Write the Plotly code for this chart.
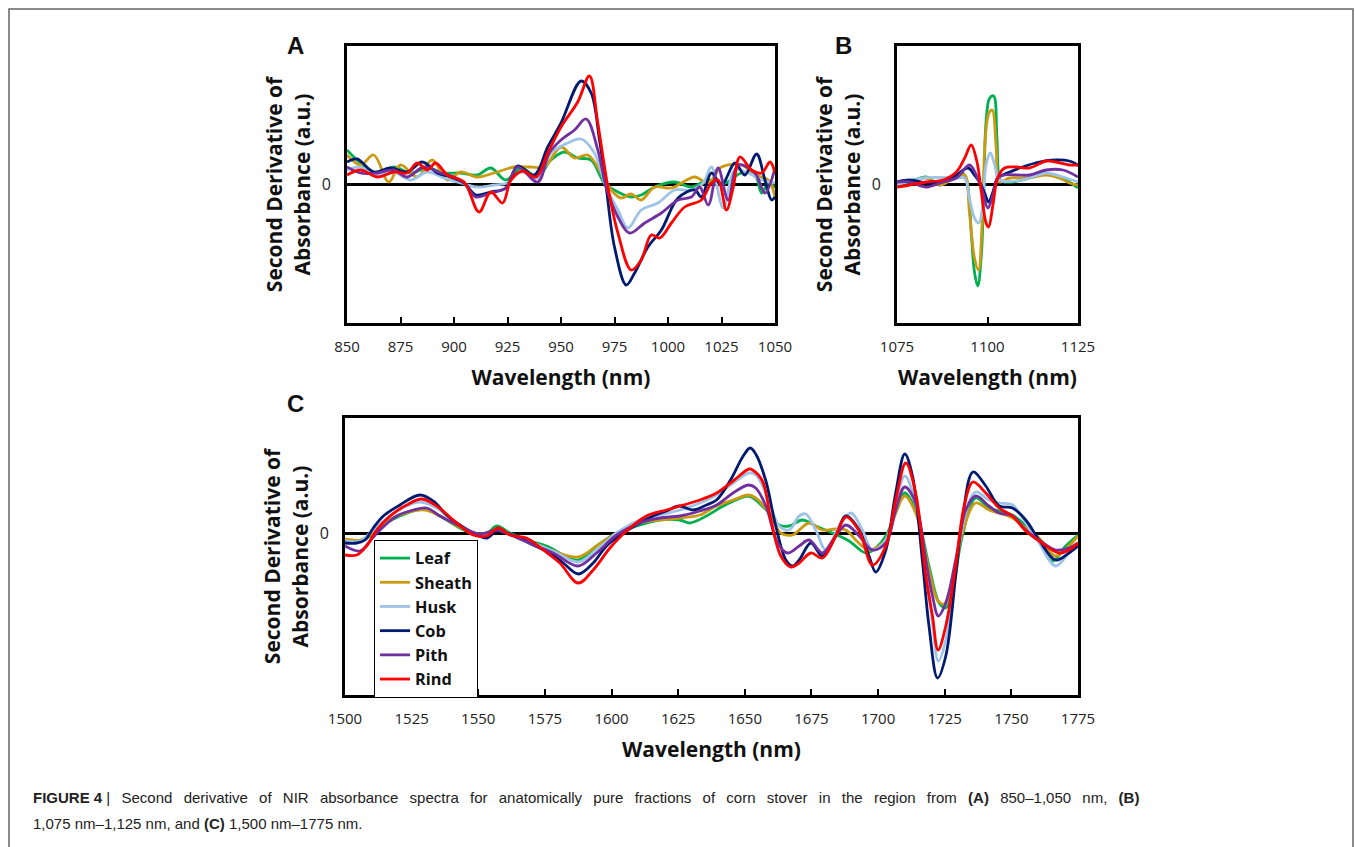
import plotly.graph_objects as go

# ---------------- data ----------------
series_names = ["Leaf", "Sheath", "Husk", "Cob", "Pith", "Rind"]
series_colors = ["#00B050", "#C99A12", "#9DC3E6", "#001A70", "#7030A0", "#FF0000"]

# Panel A (850-1050 nm)
a_leaf_wl = [850, 856.3, 864.1, 871.9, 879.7, 887.5, 895.3, 903.1, 910.9, 917.2, 924.2, 931.3, 939.1, 945.3, 951.6, 957.8, 964.1, 970.3, 976.6, 982.8, 987.5, 993.8, 1003.1, 1010.9, 1018.8, 1026.6, 1034.4, 1040.6, 1043.8, 1046.9, 1050]
a_leaf = [3.4, 2.1, 1.1, 1.7, 1.1, 1.6, 1.1, 1.1, 0.9, 1.6, 0.4, 1.6, 0.7, 2.4, 3.2, 2.6, 2.4, 0.1, -0.8, -1.3, -1.1, -0.3, 0.2, -0.3, 0.4, 0.1, 1.1, 0.9, -0.9, 0.1, -0.4]

a_sheath_wl = [850, 856.3, 862.5, 869.5, 875.0, 882.8, 889.8, 896.9, 903.1, 910.9, 918.8, 928.1, 935.9, 942.2, 950.0, 956.3, 962.5, 968.8, 973.4, 978.1, 982.8, 987.5, 993.8, 1001.6, 1012.5, 1018.8, 1025.0, 1034.4, 1040.6, 1046.9, 1050]
a_sheath = [2.9, 1.9, 2.9, 0.2, 1.9, 0.7, 2.4, 0.4, 1.2, 0.7, 1.1, 1.7, 1.7, 1.7, 3.7, 2.6, 2.9, 1.1, -0.6, -1.4, -1.0, -1.6, -0.3, -0.4, 0.7, 0.1, 1.7, 1.9, 0.9, 0.4, -1.3]

a_husk_wl = [850, 856.3, 862.5, 871.9, 879.7, 887.5, 895.3, 903.1, 910.9, 918.8, 925.0, 931.3, 939.1, 945.3, 953.1, 959.4, 965.6, 971.1, 976.6, 981.3, 987.5, 995.3, 1003.1, 1010.9, 1016.4, 1020.3, 1025.8, 1031.3, 1037.5, 1043.8, 1050]
a_husk = [1.4, 1.7, 0.9, 1.2, 0.4, 1.2, 0.6, 0.1, -0.3, -0.1, 0.1, 1.2, 0.6, 3.1, 4.1, 4.5, 3.1, -0.3, -2.6, -4.4, -2.6, -1.9, -0.6, -0.6, 0.1, 1.7, -2.4, 1.4, 1.1, 0.4, 0.1]

a_cob_wl = [850, 854.7, 862.5, 870.3, 878.1, 885.2, 892.2, 898.4, 904.7, 910.2, 917.2, 924.2, 929.7, 937.5, 943.8, 950.0, 959.4, 964.1, 968.0, 971.1, 975.0, 980.5, 984.4, 990.6, 996.9, 1004.7, 1012.5, 1015.6, 1020.3, 1025.0, 1031.3, 1035.9, 1041.4, 1045.3, 1048.4, 1050]
a_cob = [2.2, 2.5, 1.2, 1.6, 1.2, 2.2, 1.1, 0.7, 0.1, -1.1, -0.8, -0.4, 1.8, 0.9, 3.7, 6.1, 10.3, 9.1, 4.4, -0.3, -6.3, -10.1, -8.9, -6.3, -4.6, -1.4, -0.6, -1.3, 1.1, -0.1, 2.1, 0.9, 3.0, 0.4, -1.6, -1.3]

a_pith_wl = [850, 856.3, 864.1, 871.9, 878.1, 885.9, 893.8, 900.0, 904.7, 910.2, 917.2, 924.2, 929.7, 939.1, 944.5, 950.0, 956.3, 961.7, 967.2, 971.1, 976.6, 982.0, 989.1, 996.9, 1004.7, 1010.9, 1014.8, 1018.8, 1023.4, 1028.1, 1032.8, 1040.6, 1045.3, 1050]
a_pith = [1.7, 1.1, 1.1, 1.4, 0.7, 1.7, 1.1, 0.7, 0.1, -1.3, -0.9, -0.4, 1.7, 0.2, 3.1, 4.4, 5.4, 6.5, 3.4, -0.3, -3.3, -4.9, -3.9, -2.9, -1.6, -1.3, -0.3, -2.1, 1.6, -1.6, 1.9, 1.1, -0.9, 1.6]

a_rind_wl = [850, 856.3, 864.1, 871.9, 878.1, 882.8, 887.5, 891.4, 896.9, 904.7, 911.7, 917.2, 922.7, 926.6, 932.0, 938.3, 943.8, 950.0, 957.8, 963.3, 967.2, 971.9, 976.6, 982.8, 987.5, 992.2, 996.1, 1001.6, 1007.8, 1015.6, 1020.3, 1023.4, 1027.3, 1030.5, 1033.6, 1039.1, 1043.8, 1047.7, 1050]
a_rind = [0.9, 1.4, 0.7, 1.2, 1.1, 2.1, 1.4, 2.1, 0.9, 0.2, -2.8, -0.8, -1.9, 0.4, 1.3, 0.7, 3.1, 5.7, 8.2, 10.8, 6.1, -0.3, -4.9, -8.6, -7.6, -5.1, -5.4, -3.9, -2.3, -1.6, 0.1, 0.4, -2.6, -0.3, 2.7, 1.4, 1.1, 2.2, 1.1]

# Panel B (1075-1125 nm)
b_leaf_wl = [1075, 1078.5, 1083.1, 1086.8, 1091.4, 1093.2, 1094.6, 1095.5, 1096.4, 1097.3, 1098.3, 1099.0, 1099.6, 1100.6, 1101.7, 1102.6, 1103.5, 1104.7, 1109.7, 1115.3, 1119.9, 1122.6, 1125]
b_leaf = [-0.1, 0.2, 0.7, -0.1, 0.9, 1.1, -0.4, -4.8, -8.8, -10.2, -7.1, -0.4, 6.2, 8.6, 8.8, 4.6, 0.4, 0.2, 0.4, 1.1, 0.6, 0.2, -0.4]

b_sheath_wl = [1075, 1078.5, 1083.1, 1086.8, 1091.4, 1093.7, 1095.0, 1096.4, 1097.5, 1098.5, 1099.4, 1100.4, 1101.3, 1102.4, 1103.3, 1106.1, 1111.6, 1116.2, 1119.9, 1122.6, 1125]
b_sheath = [0.1, 0.3, 0.6, -0.1, 0.7, 0.9, -2.8, -7.4, -8.6, -4.1, 4.6, 7.1, 7.4, 3.6, 0.2, 0.6, 0.6, 0.9, 0.6, 0.1, -0.1]

b_husk_wl = [1075, 1082.2, 1091.4, 1093.7, 1095.0, 1096.4, 1097.6, 1098.7, 1099.6, 1100.8, 1102.0, 1103.3, 1109.7, 1116.2, 1120.8, 1125]
b_husk = [-0.1, 0.6, 0.6, 0.6, -1.4, -3.4, -3.9, -2.1, 1.9, 3.1, 1.9, 0.4, 0.4, 1.1, 0.7, 0.2]

b_cob_wl = [1075, 1078.5, 1083.1, 1087.7, 1091.4, 1094.6, 1096.4, 1097.8, 1099.2, 1100.3, 1101.5, 1102.8, 1104.2, 1109.7, 1114.3, 1118.9, 1122.6, 1125]
b_cob = [0.2, 0.4, 0.1, 0.2, 0.9, 1.6, 0.9, 0.2, -0.9, -1.8, -0.8, 0.6, 0.9, 1.7, 2.2, 2.4, 2.3, 1.9]

b_pith_wl = [1075, 1078.5, 1083.1, 1087.7, 1091.4, 1095.0, 1096.9, 1098.7, 1100.1, 1101.5, 1102.8, 1104.7, 1111.6, 1116.2, 1120.8, 1125]
b_pith = [0.2, 0.2, -0.3, 0.2, 0.6, 1.9, 0.9, -0.8, -2.4, -1.1, 0.6, 0.9, 0.9, 1.4, 1.4, 0.7]

b_rind_wl = [1075, 1078.5, 1083.1, 1087.7, 1091.4, 1093.7, 1095.5, 1097.1, 1098.3, 1099.6, 1100.3, 1101.5, 1102.8, 1104.7, 1107.9, 1111.6, 1116.2, 1118.9, 1122.6, 1125]
b_rind = [-0.3, -0.1, 0.2, 0.4, 1.2, 2.6, 3.9, 2.2, -0.8, -3.9, -4.3, -2.1, 0.6, 1.6, 1.7, 1.6, 2.3, 2.2, 1.9, 1.9]

# Panel C (1500-1775 nm)
c_leaf_wl = [1500, 1505.6, 1509.4, 1514.4, 1520.6, 1530.0, 1535.6, 1543.1, 1549.4, 1553.1, 1556.9, 1561.9, 1569.4, 1575.6, 1587.5, 1594.4, 1601.9, 1610.6, 1618.1, 1625.6, 1629.4, 1635.6, 1641.9, 1651.3,
             1654.1, 1659.1, 1662.9, 1666.6, 1671.6, 1676.6, 1682.9, 1689.1, 1695.4, 1699.1, 1702.9, 1706.6, 1710.0, 1714.1, 1719.1, 1722.9, 1725.4, 1727.9, 1731.6, 1736.6, 1741.6, 1745.4, 1750.4, 1755.4, 1760.4, 1765.4, 1770.4, 1775]
c_leaf = [-0.7, -0.8, -0.3, 0.8, 1.7, 2.4, 1.7, 0.5, -0.2, -0.1, 0.7, 0.0, -0.8, -1.3, -2.7, -1.3, 0.0, 0.8, 1.3, 1.3, 1.0, 1.7, 2.7, 3.7,
          3.3, 2.0, 0.8, 0.7, 1.3, 0.7, 0.0, -0.8, -2.0, -1.5, -0.3, 2.0, 4.0, 2.3, -3.3, -7.0, -7.5, -5.7, -0.3, 3.5, 2.5, 2.2, 1.8, 0.7, -0.7, -2.8, -1.3, -0.2]

c_sheath_wl = [1500, 1505.6, 1509.4, 1513.1, 1519.4, 1530.0, 1535.6, 1543.1, 1550.6, 1556.9, 1563.1, 1570.6, 1578.1, 1587.5, 1594.4, 1601.9, 1610.6, 1618.1, 1625.6, 1633.1, 1639.4, 1645.6, 1651.3,
               1654.1, 1659.1, 1663.5, 1667.9, 1674.1, 1679.1, 1684.1, 1687.9, 1691.6, 1696.6, 1702.9, 1706.6, 1710.0, 1714.1, 1719.1, 1722.3, 1724.8, 1727.9, 1731.6, 1736.6, 1741.6, 1745.4, 1750.4, 1755.4, 1760.4, 1766.6, 1771.6, 1775]
c_sheath = [-0.6, -0.7, -0.2, 0.7, 1.7, 2.3, 1.7, 0.6, -0.1, 0.3, -0.3, -1.0, -1.8, -2.4, -1.3, 0.0, 1.0, 1.3, 1.5, 1.8, 2.7, 3.3, 3.8,
            3.5, 2.0, 0.0, -0.2, 1.0, 0.3, 0.4, 0.3, -0.7, -1.7, -0.7, 2.0, 3.7, 2.0, -3.7, -6.7, -7.1, -5.0, 0.0, 3.0, 2.3, 2.0, 1.5, 0.5, -0.5, -2.3, -1.3, -0.3]

c_husk_wl = [1500, 1505.6, 1510.6, 1516.9, 1523.1, 1528.1, 1534.4, 1540.6, 1548.1, 1553.1, 1557.5, 1563.1, 1570.6, 1578.1, 1587.5, 1594.4, 1601.9, 1610.6, 1618.1, 1625.6, 1633.1, 1639.4, 1645.6, 1651.6,
             1654.1, 1657.9, 1662.9, 1666.6, 1670.4, 1672.9, 1676.6, 1680.4, 1685.4, 1689.8, 1694.1, 1697.9, 1702.9, 1706.6, 1710.0, 1714.1, 1717.9, 1720.4, 1722.6, 1725.4, 1729.1, 1732.9, 1736.6, 1741.6, 1745.4, 1750.4, 1755.4, 1760.4, 1766.6, 1771.6, 1775]
c_husk = [-0.8, -0.8, 0.3, 1.7, 2.7, 3.1, 2.5, 1.2, 0.0, -0.3, 0.3, -0.3, -1.0, -1.8, -2.9, -1.7, 0.0, 1.3, 1.8, 2.3, 3.0, 3.8, 5.0, 6.0,
          5.8, 4.0, 0.7, 0.3, 1.7, 1.9, 0.3, -1.7, 0.7, 2.0, 0.3, -1.7, -0.7, 3.0, 5.7, 3.0, -3.7, -9.0, -12.8, -10.7, -3.3, 2.0, 4.1, 3.3, 3.0, 2.8, 1.0, -1.0, -3.3, -2.0, -1.3]

c_cob_wl = [1500, 1504.4, 1507.5, 1510.6, 1514.4, 1520.6, 1528.1, 1533.1, 1538.1, 1543.1, 1548.1, 1553.1, 1556.9, 1560.6, 1565.6, 1570.6, 1576.9, 1581.9, 1587.5, 1593.1, 1598.1, 1604.4, 1610.6, 1615.6, 1620.6, 1625.4, 1630.6, 1635.6, 1639.4, 1644.4, 1649.4, 1652.0,
            1654.1, 1657.9, 1661.6, 1665.4, 1667.9, 1670.4, 1674.8, 1679.1, 1684.1, 1687.9, 1692.9, 1696.6, 1699.1, 1702.9, 1706.6, 1710.0, 1712.9, 1716.6, 1719.1, 1722.3, 1725.4, 1729.1, 1731.6, 1735.6, 1740.4, 1745.4, 1750.4, 1755.4, 1760.4, 1766.6, 1771.6, 1775]
c_cob = [-1.0, -1.0, -0.7, 0.5, 1.7, 2.8, 3.8, 3.2, 1.8, 0.8, 0.0, -0.5, 0.2, 0.0, -0.5, -1.2, -2.0, -3.0, -4.1, -3.0, -1.3, 0.0, 1.0, 1.7, 2.2, 2.7, 2.3, 2.8, 3.3, 5.2, 7.7, 8.5,
         7.9, 5.2, 0.7, -2.7, -3.3, -2.7, -1.0, -2.3, -0.3, 1.7, 0.3, -2.3, -3.9, -1.7, 4.0, 7.9, 5.7, -2.7, -9.3, -14.5, -12.3, -4.3, 1.3, 6.1, 4.7, 2.7, 2.5, 1.3, -0.7, -2.7, -2.0, -1.3]

c_pith_wl = [1500, 1505.6, 1509.4, 1513.1, 1519.4, 1525.6, 1530.6, 1535.6, 1543.1, 1550.6, 1556.9, 1563.1, 1570.6, 1578.1, 1587.5, 1594.4, 1601.9, 1610.6, 1618.1, 1625.6, 1633.1, 1639.4, 1645.6, 1651.3,
             1654.1, 1657.9, 1662.3, 1666.0, 1670.4, 1674.1, 1679.1, 1682.9, 1687.9, 1692.9, 1697.9, 1702.9, 1706.6, 1710.0, 1714.1, 1717.9, 1720.4, 1722.6, 1725.4, 1729.1, 1732.9, 1736.6, 1741.6, 1745.4, 1750.4, 1755.4, 1760.4, 1766.6, 1771.6, 1775]
c_pith = [-1.3, -1.8, -0.8, 0.3, 1.7, 2.3, 2.5, 1.7, 0.7, -0.1, 0.3, -0.3, -1.2, -2.0, -3.3, -2.0, -0.2, 1.0, 1.5, 1.7, 2.2, 2.8, 4.0, 4.8,
          4.5, 2.7, -1.0, -2.0, -1.3, -0.7, -2.0, -0.8, 0.8, -0.3, -1.7, -1.0, 2.3, 4.6, 3.0, -2.7, -6.3, -8.3, -7.0, -2.7, 2.3, 3.7, 2.7, 2.0, 1.7, 0.3, -0.7, -1.7, -1.5, -1.0]

c_rind_wl = [1500, 1504.4, 1508.1, 1511.9, 1516.9, 1523.1, 1528.8, 1534.4, 1540.6, 1548.1, 1553.1, 1557.5, 1561.9, 1568.1, 1574.4, 1580.6, 1587.5, 1593.1, 1599.4, 1605.6, 1613.1, 1620.6, 1626.9, 1633.1, 1639.4, 1645.6, 1651.6,
             1652.9, 1656.6, 1659.8, 1663.5, 1667.3, 1670.4, 1674.8, 1679.1, 1684.1, 1687.9, 1692.9, 1697.9, 1702.9, 1706.6, 1710.4, 1714.1, 1717.9, 1720.4, 1722.5, 1725.4, 1729.1, 1732.3, 1735.6, 1740.4, 1745.4, 1750.4, 1755.4, 1760.4, 1767.9, 1771.6, 1775]
c_rind = [-2.2, -2.2, -1.3, 0.3, 1.7, 2.8, 3.4, 2.7, 1.3, -0.2, -0.3, 0.5, -0.2, -0.5, -1.7, -3.0, -5.0, -3.7, -1.5, 0.2, 1.7, 2.3, 2.8, 3.3, 4.0, 5.2, 6.4,
          6.3, 5.2, 1.3, -2.3, -3.4, -3.0, -2.0, -2.5, -0.3, 1.6, 0.2, -3.2, -1.3, 3.3, 7.0, 4.0, -4.3, -8.3, -11.7, -9.3, -3.3, 2.7, 5.1, 4.0, 2.5, 1.7, 0.2, -0.8, -2.0, -1.7, -1.0]

panel_a = [(a_leaf_wl, a_leaf), (a_sheath_wl, a_sheath), (a_husk_wl, a_husk), (a_cob_wl, a_cob), (a_pith_wl, a_pith), (a_rind_wl, a_rind)]
panel_b = [(b_leaf_wl, b_leaf), (b_sheath_wl, b_sheath), (b_husk_wl, b_husk), (b_cob_wl, b_cob), (b_pith_wl, b_pith), (b_rind_wl, b_rind)]
panel_c = [(c_leaf_wl, c_leaf), (c_sheath_wl, c_sheath), (c_husk_wl, c_husk), (c_cob_wl, c_cob), (c_pith_wl, c_pith), (c_rind_wl, c_rind)]

ticks_a = [850, 875, 900, 925, 950, 975, 1000, 1025, 1050]
ticks_b = [1075, 1100, 1125]
ticks_c = [1500, 1525, 1550, 1575, 1600, 1625, 1650, 1675, 1700, 1725, 1750, 1775]

# ---------------- figure ----------------
W, H = 1355, 847
fig = go.Figure()

for panel, (xa, ya), show in [(panel_a, ("x", "y"), False), (panel_b, ("x2", "y2"), False), (panel_c, ("x3", "y3"), True)]:
    for (wl, vals), name, col in zip(panel, series_names, series_colors):
        fig.add_trace(go.Scatter(
            x=wl, y=vals, mode="lines", name=name, legendgroup=name,
            showlegend=show, xaxis=xa, yaxis=ya,
            line=dict(color=col, width=2.8, shape="spline", smoothing=1.0),
        ))

TITLE_FONT = dict(family="Open Sans", size=21, color="#111111")
TICK_FONT = dict(family="Open Sans", size=15, color="#222222")

def xaxis(domain, rng, tv, anchor):
    return dict(domain=domain, range=rng, tickvals=tv, anchor=anchor, automargin=False,
                showline=True, mirror=True, linecolor="black", linewidth=3,
                ticks="inside", ticklen=6, tickwidth=2, tickcolor="black",
                showgrid=False, zeroline=False, tickfont=TICK_FONT,
                ticklabelstandoff=8,
                title=dict(text="<b>Wavelength (nm)</b>", font=TITLE_FONT, standoff=16))

def yaxis(domain, rng, anchor):
    return dict(domain=domain, range=rng, anchor=anchor, automargin=False,
                tickvals=[0], ticktext=["0"], ticks="",
                showline=True, mirror=True, linecolor="black", linewidth=3,
                showgrid=False, zeroline=True, zerolinecolor="black", zerolinewidth=2.5,
                tickfont=dict(family="Open Sans", size=16, color="#222222"),
                ticklabelstandoff=10,
                title=dict(text="<b>Second Derivative of<br>Absorbance (a.u.)</b>", font=TITLE_FONT, standoff=6))

def px_x(a, b):
    return [a / W, b / W]

def px_y(top, bottom):
    return [1 - bottom / H, 1 - top / H]

fig.update_layout(
    width=W, height=H, autosize=False,
    margin=dict(l=0, r=0, t=0, b=0, pad=0, autoexpand=False),
    paper_bgcolor="white", plot_bgcolor="white",
    xaxis=xaxis(px_x(347, 775), [850, 1050], ticks_a, "y"),
    yaxis=yaxis(px_y(46, 323), [-13.9, 13.8], "x"),
    xaxis2=xaxis(px_x(897, 1078), [1075, 1125], ticks_b, "y2"),
    yaxis2=yaxis(px_y(46, 323), [-13.9, 13.8], "x2"),
    xaxis3=xaxis(px_x(345, 1078), [1500, 1775], ticks_c, "y3"),
    yaxis3=yaxis(px_y(418, 695), [-16.2, 11.5], "x3"),
    legend=dict(x=374 / W, y=1 - 540 / H, xanchor="left", yanchor="top",
                bgcolor="white", bordercolor="black", borderwidth=1,
                font=dict(family="Open Sans", size=16.3, color="#111111", weight="bold"),
                tracegroupgap=0, itemwidth=30),
    showlegend=True,
)

# panel letters
for letter, xp, yp in [("A", 295, 45), ("B", 843, 45), ("C", 295, 403)]:
    fig.add_annotation(text=f"<b>{letter}</b>", x=xp / W, y=1 - yp / H, xref="paper", yref="paper",
                       showarrow=False, xanchor="center", yanchor="middle",
                       font=dict(family="Liberation Sans", size=24, color="#111111"))

# caption (first line justified like the journal layout: widened word gaps)
GAP = "\u2002\u2005"
cap1_head = "<b>FIGURE 4</b> |"
cap1_words = ["Second", "derivative", "of", "NIR", "absorbance", "spectra", "for",
              "anatomically", "pure", "fractions", "of", "corn", "stover", "in", "the", "region", "from",
              "<b>(A)</b>", "850–1,050", "nm,", "<b>(B)</b>"]
cap1 = cap1_head + GAP + GAP.join(cap1_words)
cap2 = "1,075 nm–1,125 nm, and <b>(C)</b> 1,500 nm–1775 nm."
for txt, yp in [(cap1, 797), (cap2, 823)]:
    fig.add_annotation(text=txt, x=31 / W, y=1 - yp / H, xref="paper", yref="paper",
                       showarrow=False, xanchor="left", yanchor="middle", align="left",
                       font=dict(family="Liberation Sans", size=15, color="#222222"))

# outer frame
fig.add_shape(type="rect", xref="paper", yref="paper", x0=9 / W, x1=1353 / W, y0=-0.05, y1=1 - 9 / H,
              line=dict(color="#666666", width=1.5), fillcolor="rgba(0,0,0,0)", layer="below")

fig.write_html("out.html")
